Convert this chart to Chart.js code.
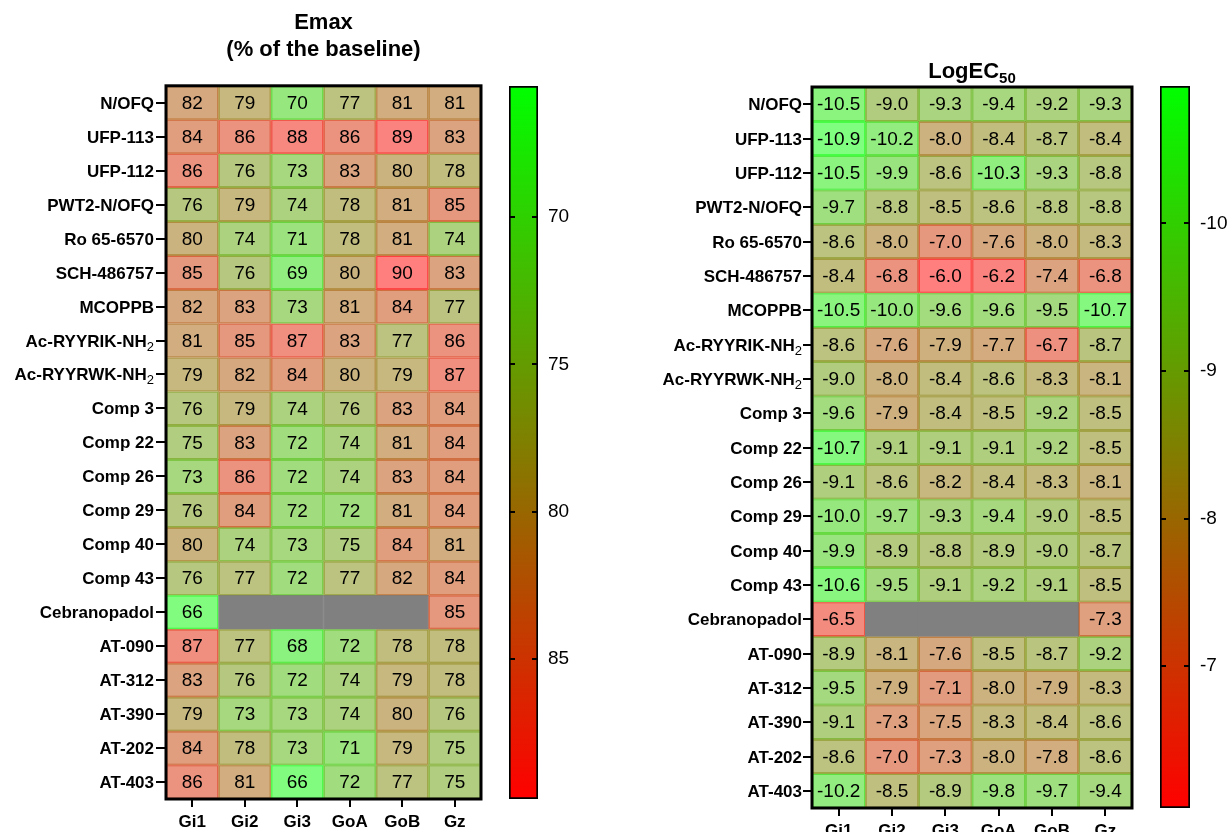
<!DOCTYPE html>
<html>
<head>
<meta charset="utf-8">
<script src="https://cdn.jsdelivr.net/npm/chart.js@4.4.1/dist/chart.umd.min.js"></script>
<style>
  body { margin: 0; background: #fff; }
  #wrap { position: relative; width: 1229px; height: 832px; overflow: hidden; }
  .box { position: absolute; top: 0; height: 832px; }
</style>
</head>
<body>
<div id="wrap">
  <div class="box" style="left:0;width:500px"><canvas id="emaxMap"></canvas></div>
  <div class="box" style="left:500px;width:100px"><canvas id="emaxBar"></canvas></div>
  <div class="box" style="left:620px;width:560px"><canvas id="logMap"></canvas></div>
  <div class="box" style="left:1151px;width:78px"><canvas id="logBar"></canvas></div>
</div>
<script>
const receptors = ['Gi1', 'Gi2', 'Gi3', 'GoA', 'GoB', 'Gz'];
// [name, subscript]
const ligands = [['N/OFQ', ''], ['UFP-113', ''], ['UFP-112', ''], ['PWT2-N/OFQ', ''], ['Ro 65-6570', ''],
  ['SCH-486757', ''], ['MCOPPB', ''], ['Ac-RYYRIK-NH', '2'], ['Ac-RYYRWK-NH', '2'], ['Comp 3', ''],
  ['Comp 22', ''], ['Comp 26', ''], ['Comp 29', ''], ['Comp 40', ''], ['Comp 43', ''],
  ['Cebranopadol', ''], ['AT-090', ''], ['AT-312', ''], ['AT-390', ''], ['AT-202', ''], ['AT-403', '']];

// Emax (% of the baseline), one row per ligand
const emax = [
  [82, 79, 70, 77, 81, 81],
  [84, 86, 88, 86, 89, 83],
  [86, 76, 73, 83, 80, 78],
  [76, 79, 74, 78, 81, 85],
  [80, 74, 71, 78, 81, 74],
  [85, 76, 69, 80, 90, 83],
  [82, 83, 73, 81, 84, 77],
  [81, 85, 87, 83, 77, 86],
  [79, 82, 84, 80, 79, 87],
  [76, 79, 74, 76, 83, 84],
  [75, 83, 72, 74, 81, 84],
  [73, 86, 72, 74, 83, 84],
  [76, 84, 72, 72, 81, 84],
  [80, 74, 73, 75, 84, 81],
  [76, 77, 72, 77, 82, 84],
  [66, null, null, null, null, 85],
  [87, 77, 68, 72, 78, 78],
  [83, 76, 72, 74, 79, 78],
  [79, 73, 73, 74, 80, 76],
  [84, 78, 73, 71, 79, 75],
  [86, 81, 66, 72, 77, 75]
];

// LogEC50
const logEC50 = [
  [-10.5, -9.0, -9.3, -9.4, -9.2, -9.3],
  [-10.9, -10.2, -8.0, -8.4, -8.7, -8.4],
  [-10.5, -9.9, -8.6, -10.3, -9.3, -8.8],
  [-9.7, -8.8, -8.5, -8.6, -8.8, -8.8],
  [-8.6, -8.0, -7.0, -7.6, -8.0, -8.3],
  [-8.4, -6.8, -6.0, -6.2, -7.4, -6.8],
  [-10.5, -10.0, -9.6, -9.6, -9.5, -10.7],
  [-8.6, -7.6, -7.9, -7.7, -6.7, -8.7],
  [-9.0, -8.0, -8.4, -8.6, -8.3, -8.1],
  [-9.6, -7.9, -8.4, -8.5, -9.2, -8.5],
  [-10.7, -9.1, -9.1, -9.1, -9.2, -8.5],
  [-9.1, -8.6, -8.2, -8.4, -8.3, -8.1],
  [-10.0, -9.7, -9.3, -9.4, -9.0, -8.5],
  [-9.9, -8.9, -8.8, -8.9, -9.0, -8.7],
  [-10.6, -9.5, -9.1, -9.2, -9.1, -8.5],
  [-6.5, null, null, null, null, -7.3],
  [-8.9, -8.1, -7.6, -8.5, -8.7, -9.2],
  [-9.5, -7.9, -7.1, -8.0, -7.9, -8.3],
  [-9.1, -7.3, -7.5, -8.3, -8.4, -8.6],
  [-8.6, -7.0, -7.3, -8.0, -7.8, -8.6],
  [-10.2, -8.5, -8.9, -9.8, -9.7, -9.4]
];

// colour bar extents and ticks
const emaxRange = [65.55, 89.75];
const logRange = [-10.93, -6.04];
const emaxTicks = [70, 75, 80, 85];
const logTicks = [-10, -9, -8, -7];

const FONT = "'Liberation Sans', Arial, sans-serif";

// green (low) -> red (high)
function ramp(v, range, alpha) {
  let t = (v - range[0]) / (range[1] - range[0]);
  t = Math.max(0, Math.min(1, t));
  return `rgba(${Math.round(255 * t)},${Math.round(255 * (1 - t))},0,${alpha})`;
}

function cellText(values, digits) {
  return {
    id: 'cellText',
    afterDatasetsDraw(chart) {
      const ctx = chart.ctx;
      ctx.save();
      ctx.font = `19px ${FONT}`;
      ctx.fillStyle = '#000';
      ctx.textAlign = 'center';
      ctx.textBaseline = 'middle';
      chart.data.datasets.forEach((ds, i) => {
        chart.getDatasetMeta(i).data.forEach((bar, j) => {
          const v = values[i][j];
          if (v === null) return;
          ctx.fillText(v.toFixed(digits), bar.x, (bar.y + bar.base) / 2 + 1);
        });
      });
      ctx.restore();
    }
  };
}

// row labels with optional subscript, placed at the y scale's tick positions
function rowLabels(gap) {
  return {
    id: 'rowLabels',
    afterDraw(chart) {
      const { ctx, chartArea: a } = chart;
      const y = chart.scales.y;
      ctx.save();
      ctx.fillStyle = '#000';
      ctx.textAlign = 'right';
      ctx.textBaseline = 'alphabetic';
      y.ticks.forEach((t, i) => {
        const [name, sub] = ligands[i];
        const py = y.getPixelForValue(t.value) + 6;
        let x = a.left - gap;
        if (sub) {
          ctx.font = `13px ${FONT}`;
          ctx.fillText(sub, x, py + 4);
          x -= ctx.measureText(sub).width;
        }
        ctx.font = `bold 17px ${FONT}`;
        ctx.fillText(name, x, py);
      });
      ctx.restore();
    }
  };
}

const frame = {
  id: 'frame',
  afterDatasetsDraw(chart) {
    const { ctx, chartArea: a } = chart;
    ctx.save();
    ctx.strokeStyle = '#000';
    ctx.lineWidth = 3;
    ctx.strokeRect(a.left, a.top, a.right - a.left, a.bottom - a.top);
    ctx.restore();
  }
};

// title with a subscript part, centred over the plot area
function subTitle(main, sub, baseline) {
  return {
    id: 'subTitle',
    afterDraw(chart) {
      const { ctx, chartArea: a } = chart;
      ctx.save();
      ctx.fillStyle = '#000';
      ctx.textBaseline = 'alphabetic';
      ctx.textAlign = 'left';
      ctx.font = `bold 22px ${FONT}`;
      const w1 = ctx.measureText(main).width;
      ctx.font = `bold 15px ${FONT}`;
      const w2 = ctx.measureText(sub).width;
      const x0 = (a.left + a.right) / 2 - (w1 + w2) / 2;
      ctx.font = `bold 22px ${FONT}`;
      ctx.fillText(main, x0, baseline);
      ctx.font = `bold 15px ${FONT}`;
      ctx.fillText(sub, x0 + w1, baseline + 5);
      ctx.restore();
    }
  };
}

// short tick marks on both inner edges of the colour bar
const barTicks = {
  id: 'barTicks',
  afterDatasetsDraw(chart) {
    const { ctx, chartArea: a } = chart;
    const y = chart.scales.y;
    ctx.save();
    ctx.strokeStyle = '#000';
    ctx.lineWidth = 2;
    y.ticks.forEach(t => {
      const py = Math.round(y.getPixelForValue(t.value));
      ctx.beginPath();
      ctx.moveTo(a.left, py); ctx.lineTo(a.left + 6, py);
      ctx.moveTo(a.right - 6, py); ctx.lineTo(a.right, py);
      ctx.stroke();
    });
    ctx.restore();
  }
};

function heatmap(id, values, range, o) {
  const datasets = ligands.map((l, i) => ({
    label: l.join(''),
    data: receptors.map(() => 1),
    backgroundColor: values[i].map(v => v === null ? '#808080' : ramp(v, range, 0.5)),
    borderColor: values[i].map(v => v === null ? '#808080' : ramp(v, range, 0.6)),
    borderWidth: 1,
    borderSkipped: false,
    barPercentage: 1,
    categoryPercentage: 1
  }));
  return new Chart(document.getElementById(id), {
    type: 'bar',
    data: { labels: receptors, datasets },
    options: {
      responsive: true,
      maintainAspectRatio: false,
      animation: false,
      layout: { padding: { left: 0, right: o.padRight, top: o.padTop || 0, bottom: 0 } },
      plugins: {
        legend: { display: false },
        tooltip: { enabled: false },
        title: {
          display: !!o.title,
          text: o.title,
          fullSize: false,
          color: '#000',
          font: { family: FONT, size: 22, weight: 'bold', lineHeight: 1.2 },
          padding: o.titlePad
        }
      },
      scales: {
        x: {
          stacked: true,
          grid: { display: true, offset: false, drawOnChartArea: false, drawTicks: true, tickLength: 8, color: '#000', lineWidth: 2 },
          border: { display: false },
          ticks: { color: '#000', font: { family: FONT, size: 17, weight: 'bold' }, padding: 5, maxRotation: 0 },
          afterFit: s => { s.height = o.xHeight; }
        },
        y: {
          type: 'linear',
          stacked: true,
          reverse: true,
          min: 0,
          max: ligands.length,
          grid: { display: true, drawOnChartArea: false, drawTicks: true, tickLength: o.yTick, color: '#000', lineWidth: 2 },
          border: { display: false },
          ticks: { display: false, autoSkip: false },
          afterBuildTicks: s => { s.ticks = ligands.map((n, i) => ({ value: i + 0.5 })); },
          afterFit: s => { s.width = o.yWidth; }
        }
      }
    },
    plugins: [cellText(values, o.digits), frame, rowLabels(o.yTick + o.yPad)].concat(o.extra || [])
  });
}

function colorbar(id, range, ticks, o) {
  return new Chart(document.getElementById(id), {
    type: 'bar',
    data: {
      labels: [''],
      datasets: [{
        data: [range],
        backgroundColor: c => {
          const a = c.chart.chartArea;
          if (!a) return 'transparent';
          const g = c.chart.ctx.createLinearGradient(0, a.top, 0, a.bottom);
          g.addColorStop(0, 'rgb(0,255,0)');
          g.addColorStop(1, 'rgb(255,0,0)');
          return g;
        },
        borderColor: '#000',
        borderWidth: 2,
        borderSkipped: false,
        barPercentage: 1,
        categoryPercentage: 1
      }]
    },
    options: {
      responsive: true,
      maintainAspectRatio: false,
      animation: false,
      layout: { padding: { left: 9, right: 0, top: o.top, bottom: o.bottom } },
      plugins: { legend: { display: false }, tooltip: { enabled: false } },
      scales: {
        x: { display: false },
        y: {
          position: 'right',
          reverse: true,
          min: range[0],
          max: range[1],
          grid: { display: false, drawTicks: false },
          border: { display: false },
          ticks: { color: '#000', font: { family: FONT, size: 19 }, padding: 10 },
          afterBuildTicks: s => { s.ticks = ticks.map(v => ({ value: v })); },
          afterFit: s => { s.width = o.axisWidth; }
        }
      }
    },
    plugins: [barTicks]
  });
}

heatmap('emaxMap', emax, emaxRange, {
  title: ['Emax', '(% of the baseline)'],
  titlePad: { top: 10, bottom: 23 },
  padRight: 19, yWidth: 166, yTick: 10, yPad: 2, xHeight: 33, digits: 0
});
colorbar('emaxBar', emaxRange, emaxTicks, { top: 86, bottom: 33, axisWidth: 62 });

heatmap('logMap', logEC50, logRange, {
  padTop: 87,
  extra: [subTitle('LogEC', '50', 78)],
  padRight: 48, yWidth: 192, yTick: 9, yPad: 1, xHeight: 24, digits: 1
});
colorbar('logBar', logRange, logTicks, { top: 86, bottom: 24, axisWidth: 39 });
</script>
</body>
</html>
